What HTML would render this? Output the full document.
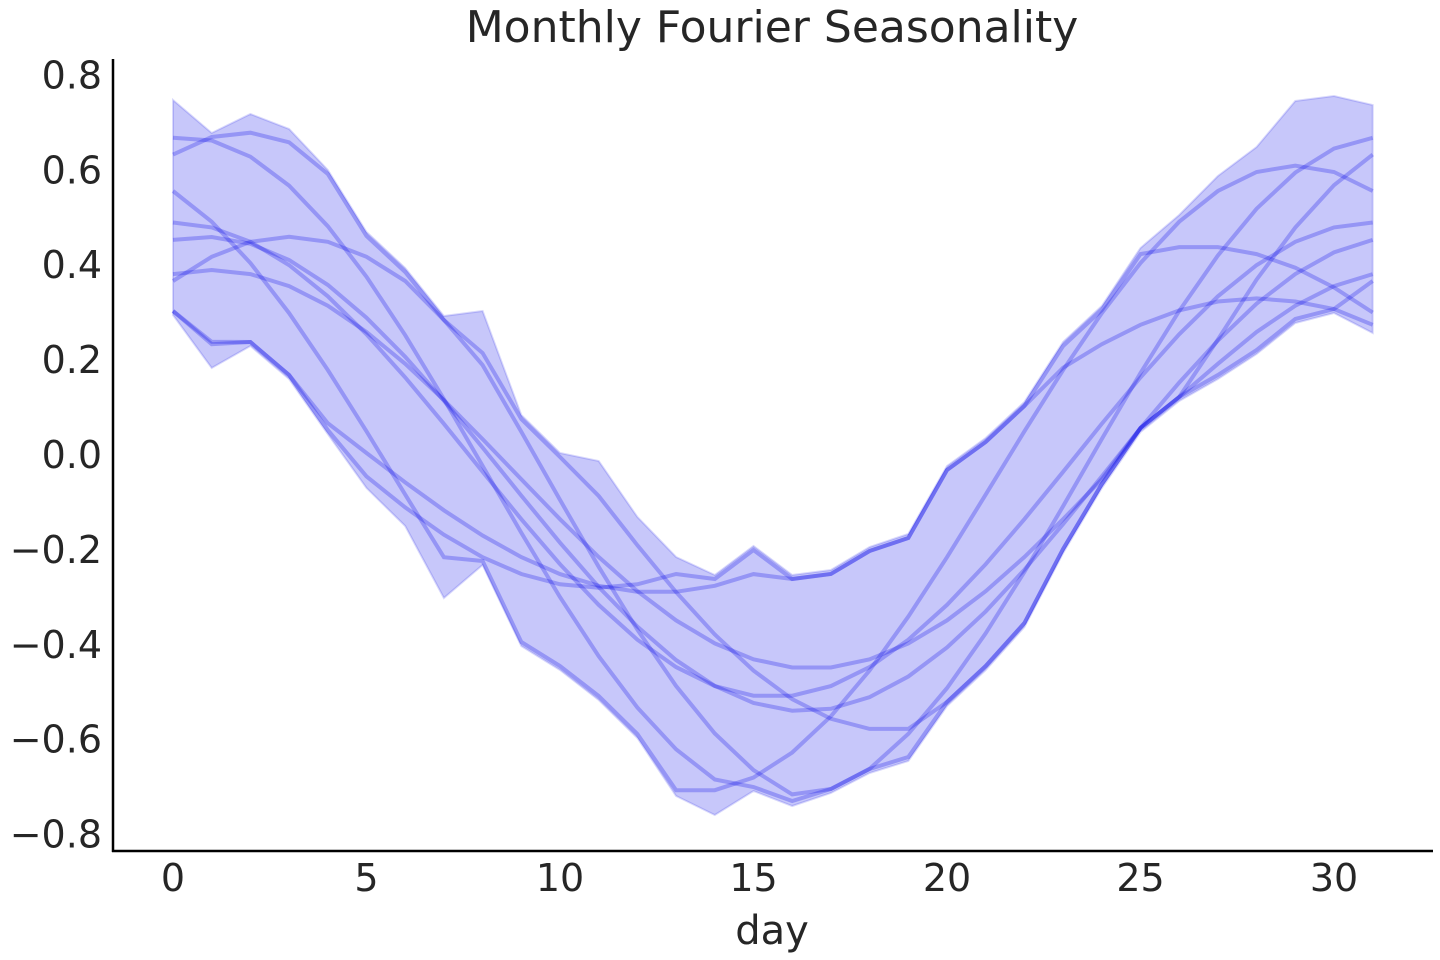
<!DOCTYPE html>
<html><head><meta charset="utf-8"><style>
html,body{margin:0;padding:0;background:#fff;}
svg{display:block;font-family:"DejaVu Sans","Liberation Sans",sans-serif;}
</style></head><body>
<svg id="s" width="1440" height="960" xmlns="http://www.w3.org/2000/svg">
<text x="772" y="42" font-size="44" fill="#262626" text-anchor="middle">Monthly Fourier Seasonality</text>
<g id="plot"></g>
<line x1="113" y1="59" x2="113" y2="852" stroke="#000" stroke-width="2.5"/>
<line x1="112" y1="851" x2="1433" y2="851" stroke="#000" stroke-width="2.5"/>
<g id="ticks" font-size="38" fill="#262626"></g>
<text x="772" y="944" font-size="40" fill="#262626" text-anchor="middle">day</text>
</svg>
<script>
const X=d=>173+d*38.7, Y=v=>455-474.4*v;
const up=[100,133,114,129,170,232,268,316,311,415,453,461,517,557,575,546,575,570,547,534,466,438,402,342,306,248,215,176,147,101,96,105];
const lo=[315,368,346,379,434,488,526,598,565,646,670,700,738,796,815,791,806,793,773,761,706,670,627,553,488,432,401,379,354,323,313,333];
let p='M'+up.map((y,i)=>X(i)+','+y).join(' L')+' L'+lo.map((y,i)=>[X(i),y]).reverse().map(a=>a.join(',')).join(' L')+'Z';
let h='<path d="'+p+'" fill="rgb(0,0,230)" fill-opacity="0.22" stroke="rgb(0,0,230)" stroke-opacity="0.15" stroke-width="2"/>';
// [amp, center, phase(day of max)]
const L=[[0.70,-0.03,0.3],[0.66,-0.05,-2.0],[0.71,-0.03,1.8],[0.50,-0.01,0.0],[0.50,-0.04,0.8],[0.52,-0.06,3.0],[0.42,-0.03,1.0],[0.31,0.02,-3.0],[0.36,0.08,-4.5]];
for(const [a,c,ph] of L){
 let pts=[];for(let t=0;t<=31;t++){let y=Y(c+a*Math.cos(2*Math.PI*(t-ph)/31));y=Math.max(up[t]+4,Math.min(lo[t]-4,y));pts.push(X(t)+','+y.toFixed(1))}
 h+='<polyline points="'+pts.join(' ')+'" fill="none" stroke="rgb(0,0,230)" stroke-opacity="0.25" stroke-width="4"/>';
}
document.getElementById('plot').innerHTML=h;
let t='';
for(let v=-0.8;v<=0.81;v+=0.2){let s=Math.abs(v)<1e-9?'0.0':(v<0?'\u2212':'')+Math.abs(v).toFixed(1);t+='<text x="102" y="'+(Y(v)+13)+'" text-anchor="end">'+s+'</text>';}
for(let d=0;d<=30;d+=5)t+='<text x="'+X(d)+'" y="891" text-anchor="middle">'+d+'</text>';
document.getElementById('ticks').innerHTML=t;
</script>
</body></html>
